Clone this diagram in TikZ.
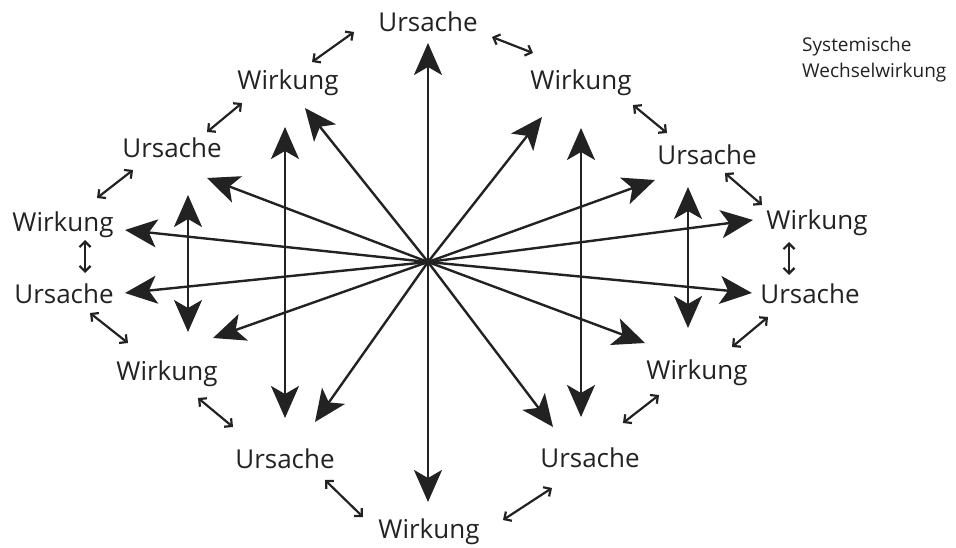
\documentclass[tikz,border=0pt]{standalone}
\usepackage{fontspec}
\setmainfont{Open Sans}
\usetikzlibrary{arrows.meta}
\definecolor{ink}{HTML}{222222}
\tikzset{
  lbl/.style={anchor=base, inner sep=0pt, text=ink, font=\fontsize{26}{26}\selectfont},
  bighead/.tip={Stealth[length=32pt,width=28pt,inset=8pt]},
  big/.style={draw=ink, line width=2.4pt, -bighead},
  bigboth/.style={draw=ink, line width=2.4pt, bighead-bighead},
  smallhead/.tip={Straight Barb[length=5.5pt,width=11pt]},
  small/.style={draw=ink, line width=2.2pt, smallhead-smallhead},
  note/.style={anchor=base west, inner sep=0pt, text=ink, font=\fontsize{19}{26}\selectfont}
}
\begin{document}
\begin{tikzpicture}[x=1pt,y=-1pt]
\useasboundingbox (0,0) rectangle (956,548);
% labels
\node[lbl] (u1) at (428,32) {Ursache};
\node[lbl] (w1) at (288,90) {Wirkung};
\node[lbl] (w2) at (581,90) {Wirkung};
\node[lbl] (u2) at (172,158) {Ursache};
\node[lbl] (u3) at (707,165) {Ursache};
\node[lbl] (w3) at (63,232) {Wirkung};
\node[lbl] (w4) at (817,230) {Wirkung};
\node[lbl] (u4) at (64,303) {Ursache};
\node[lbl] (u5) at (810,303) {Ursache};
\node[lbl] (w5) at (167,380) {Wirkung};
\node[lbl] (w6) at (697,379) {Wirkung};
\node[lbl] (u6) at (285,468) {Ursache};
\node[lbl] (u7) at (590,467) {Ursache};
\node[lbl] (w7) at (429,538) {Wirkung};
\node[note] (title1) at (802,52) {Systemische};
\node[note] (title2) at (802,78) {Wechselwirkung};
% centre and tips
\coordinate (c) at (428,262);
\coordinate (t1) at (428,43);
\coordinate (t2) at (305,108);
\coordinate (t3) at (207,178);
\coordinate (t4) at (125,230);
\coordinate (t5) at (125,293);
\coordinate (t6) at (213,338);
\coordinate (t7) at (315,422);
\coordinate (t8) at (428,502);
\coordinate (t9) at (553,427);
\coordinate (t10) at (645,343);
\coordinate (t11) at (752,293);
\coordinate (t12) at (753,220);
\coordinate (t13) at (655,180);
\coordinate (t14) at (542,117);
\foreach \i in {1,...,14} {\draw[big] (c) -- (t\i);}
% vertical double arrows
\coordinate (v1a) at (188,195); \coordinate (v1b) at (188,332);
\coordinate (v2a) at (285,127); \coordinate (v2b) at (285,418);
\coordinate (v3a) at (581,128); \coordinate (v3b) at (581,417);
\coordinate (v4a) at (688,187); \coordinate (v4b) at (688,328);
\draw[bigboth] (v1a) -- (v1b);
\draw[bigboth] (v2a) -- (v2b);
\draw[bigboth] (v3a) -- (v3b);
\draw[bigboth] (v4a) -- (v4b);
% small double arrows
\coordinate (a1) at (312,62);  \coordinate (b1) at (354,32);
\coordinate (a2) at (492,37);  \coordinate (b2) at (533,53);
\coordinate (a3) at (207,132); \coordinate (b3) at (242,103);
\coordinate (a4) at (633,105); \coordinate (b4) at (667,133);
\coordinate (a5) at (97,198);  \coordinate (b5) at (133,170);
\coordinate (a6) at (725,173); \coordinate (b6) at (762,205);
\coordinate (a7) at (85,240);  \coordinate (b7) at (85,273);
\coordinate (a8) at (789,242); \coordinate (b8) at (789,275);
\coordinate (a9) at (90,313);  \coordinate (b9) at (128,343);
\coordinate (a10) at (768,317); \coordinate (b10) at (732,347);
\coordinate (a11) at (198,398); \coordinate (b11) at (233,427);
\coordinate (a12) at (659,395); \coordinate (b12) at (623,423);
\coordinate (a13) at (325,480); \coordinate (b13) at (363,517);
\coordinate (a14) at (503,520); \coordinate (b14) at (552,488);
\foreach \i in {1,...,14} {\draw[small] (a\i) -- (b\i);}
\end{tikzpicture}
\end{document}
